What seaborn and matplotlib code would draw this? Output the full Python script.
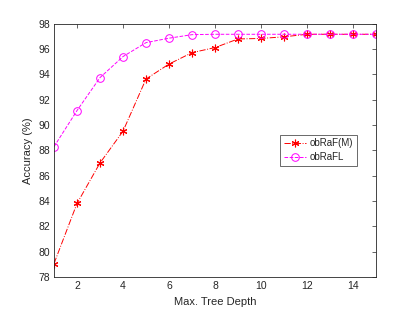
from matplotlib import pyplot as plt
import numpy as np
import pandas
import seaborn as sns

# Data
depth = list(range(1, 16))
acc_obraf_m = [79.06, 83.8, 87.0, 89.5, 93.62, 94.8, 95.7, 96.1, 96.78, 96.82, 96.95, 97.15, 97.15, 97.15, 97.15]
acc_obrafl = [88.28, 91.13, 93.73, 95.39, 96.49, 96.84, 97.12, 97.15, 97.15, 97.15, 97.15, 97.15, 97.15, 97.15, 97.15]

df = pandas.DataFrame({'depth': depth, 'obRaF(M)': acc_obraf_m, 'obRaFL': acc_obrafl})

sns.set_style("white")
plt.rcParams['font.family'] = ['Liberation Sans', 'DejaVu Sans']
plt.rcParams['xtick.direction'] = 'in'
plt.rcParams['ytick.direction'] = 'in'

fig = plt.figure(figsize=(4.15, 3.12), dpi=100)
ax = fig.add_axes([54 / 415, 1 - 277 / 312, (376 - 54) / 415, (277 - 23.5) / 312])

# asterisk marker, like the MATLAB '*'
sns.lineplot(data=df, x='depth', y='obRaF(M)', ax=ax, color='red', linestyle='-.', linewidth=0.7,
             marker=(6, 2, 0), markersize=5.5, markeredgewidth=0.8, markeredgecolor='red', label='obRaF(M)')
sns.lineplot(data=df, x='depth', y='obRaFL', ax=ax, color='magenta', linestyle='--', linewidth=0.7,
             marker='o', markersize=5.5, markerfacecolor='none', markeredgecolor='magenta',
             markeredgewidth=0.7, label='obRaFL')

ax.set_xlim(1, 15)
ax.set_ylim(78, 98)
ax.set_xticks(range(2, 15, 2))
ax.set_yticks(range(78, 99, 2))
ax.tick_params(labelsize=7.5, colors='#262626', length=3, width=0.5, top=True, right=True,
               labeltop=False, labelright=False, pad=3)
for s in ax.spines.values():
    s.set_color('#262626')
    s.set_linewidth(0.6)

ax.set_xlabel('Max. Tree Depth', fontsize=8, color='#262626')
ax.set_ylabel('Accuracy (%)', fontsize=8, color='#262626')

leg = ax.legend(loc='center right', bbox_to_anchor=(0.941, 0.50), fontsize=7, frameon=True,
                fancybox=False, edgecolor='#262626', handlelength=2.3, handletextpad=0.4,
                borderpad=0.35, labelspacing=0.4, borderaxespad=0)
leg.get_frame().set_linewidth(0.6)

fig.savefig('out.png', dpi=100)
